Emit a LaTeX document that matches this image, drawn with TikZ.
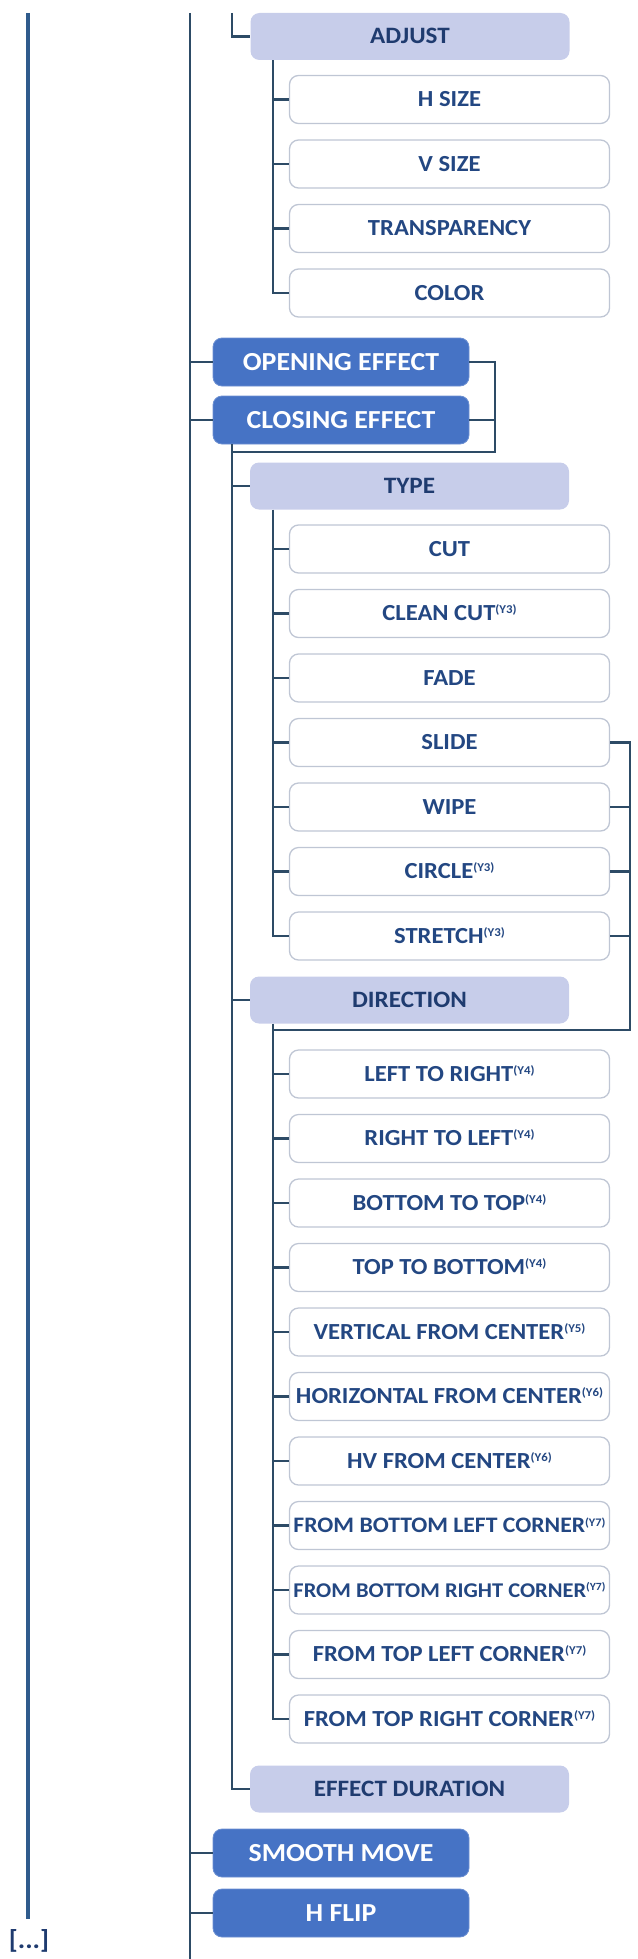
\documentclass[tikz,border=0pt]{standalone}
\usepackage{fontspec}
\setmainfont{Carlito}[FakeStretch=1.07]
\usepackage{graphicx}
\definecolor{darkbox}{HTML}{4673C5}
\definecolor{lightbox}{HTML}{C7CDEA}
\definecolor{wborder}{HTML}{BFC6D4}
\definecolor{txtblue}{HTML}{234782}
\definecolor{txtnavy}{HTML}{1F3B6F}
\definecolor{linec}{HTML}{2D4B66}
\definecolor{leftc}{HTML}{2F5B8C}
\newsavebox\lblbox
\newcommand\fitl[1]{\sbox\lblbox{#1}\ifdim\wd\lblbox>312pt\relax\resizebox{312pt}{!}{\usebox\lblbox}\else\usebox\lblbox\fi}
\newcommand\ynote[1]{\raisebox{7pt}{\fontsize{12}{12}\selectfont(Y#1)}}
\begin{document}
\begin{tikzpicture}[x=1pt,y=-1pt,
  darknode/.style={rectangle, rounded corners=9pt, fill=darkbox, draw=darkbox!80!white, line width=0.8pt,
    minimum width=256pt, minimum height=48pt, text=white, inner sep=0pt,
    font=\bfseries\fontsize{26}{28}\selectfont, text height=16.4pt, text depth=0pt},
  lightnode/.style={rectangle, rounded corners=9pt, fill=lightbox, minimum width=319pt, minimum height=47pt,
    text=txtnavy, inner sep=0pt, font=\bfseries\fontsize{23.5}{25}\selectfont, text height=14.8pt, text depth=0pt},
  leafnode/.style={rectangle, rounded corners=9pt, fill=white, draw=wborder, line width=1.3pt,
    minimum width=320pt, minimum height=48pt, text=txtblue, inner sep=0pt,
    font=\bfseries\fontsize{23}{25}\selectfont, text height=14.5pt, text depth=0pt},
  conn/.style={draw=linec, line width=2.2pt},
  leftline/.style={draw=leftc, line width=4pt},
  ellip/.style={text=txtnavy, font=\bfseries\fontsize{26}{28}\selectfont, inner sep=0pt},
]
\useasboundingbox (0,0) rectangle (637,1959);

% coordinates
\coordinate (topL) at (28,13);
\coordinate (botL) at (28,1919);
\coordinate (topM) at (190,13);
\coordinate (botM) at (190,1959);
\coordinate (topB) at (232,13);
\coordinate (bx1) at (495,452);
\coordinate (bx2) at (630,1030);
\coordinate (cx) at (232,0);
\coordinate (kx) at (273,0);

% ADJUST group
\node[lightnode] (adjust) at (410,36.5) {ADJUST};
\node[leafnode] (hsize) at (449.5,99.5) {H SIZE};
\node[leafnode] (vsize) at (449.5,164) {V SIZE};
\node[leafnode] (transp) at (449.5,228.5) {TRANSPARENCY};
\node[leafnode] (color) at (449.5,293) {COLOR};

% effects
\node[darknode] (open) at (341,362) {OPENING EFFECT};
\node[darknode] (close) at (341,420) {CLOSING EFFECT};

% TYPE group
\node[lightnode] (type) at (409.5,486) {TYPE};
\node[leafnode] (cut) at (449.5,549) {CUT};
\node[leafnode] (cleancut) at (449.5,613.5) {CLEAN CUT\ynote{3}};
\node[leafnode] (fade) at (449.5,678) {FADE};
\node[leafnode] (slide) at (449.5,742.5) {SLIDE};
\node[leafnode] (wipe) at (449.5,807) {WIPE};
\node[leafnode] (circle) at (449.5,871.5) {CIRCLE\ynote{3}};
\node[leafnode] (stretch) at (449.5,936) {STRETCH\ynote{3}};

% DIRECTION group
\node[lightnode] (direction) at (409.5,1000) {DIRECTION};
\node[leafnode] (ltr) at (449.5,1074) {\fitl{LEFT TO RIGHT\ynote{4}}};
\node[leafnode] (rtl) at (449.5,1138.5) {\fitl{RIGHT TO LEFT\ynote{4}}};
\node[leafnode] (btt) at (449.5,1203) {\fitl{BOTTOM TO TOP\ynote{4}}};
\node[leafnode] (ttb) at (449.5,1267.5) {\fitl{TOP TO BOTTOM\ynote{4}}};
\node[leafnode] (vfc) at (449.5,1332) {\fitl{VERTICAL FROM CENTER\ynote{5}}};
\node[leafnode] (hfc) at (449.5,1396.5) {\fitl{HORIZONTAL FROM CENTER\ynote{6}}};
\node[leafnode] (hvfc) at (449.5,1461) {\fitl{HV FROM CENTER\ynote{6}}};
\node[leafnode] (fblc) at (449.5,1525.5) {\fitl{FROM BOTTOM LEFT CORNER\ynote{7}}};
\node[leafnode] (fbrc) at (449.5,1590) {\fitl{FROM BOTTOM RIGHT CORNER\ynote{7}}};
\node[leafnode] (ftlc) at (449.5,1654.5) {\fitl{FROM TOP LEFT CORNER\ynote{7}}};
\node[leafnode] (ftrc) at (449.5,1719) {\fitl{FROM TOP RIGHT CORNER\ynote{7}}};

\node[lightnode] (effdur) at (409.5,1789) {EFFECT DURATION};

\node[darknode] (smooth) at (341,1853) {SMOOTH MOVE};
\node[darknode] (hflip) at (341,1913) {H FLIP};

\node[ellip] (more) at (29,1941) {[...]};

% main lines
\draw[leftline] (topL) -- (botL);
\draw[conn] (topM) -- (botM);
\foreach \n in {open,close,smooth,hflip} \draw[conn] (\n.west -| topM) -- (\n.west);

% ADJUST connectors
\draw[conn] (topB) |- (adjust.west);
\draw[conn] (adjust.south -| kx) |- (color.west);
\foreach \n in {hsize,vsize,transp} \draw[conn] (\n.west -| kx) -- (\n.west);

% effect bracket
\draw[conn] (open.east) -| (bx1) -- (bx1 -| cx);
\draw[conn] (close.east) -- (close.east -| bx1);
\draw[conn] (close.south -| cx) |- (effdur.west);
\foreach \n in {type,direction} \draw[conn] (\n.west -| cx) -- (\n.west);

% TYPE children
\draw[conn] (type.south -| kx) |- (stretch.west);
\foreach \n in {cut,cleancut,fade,slide,wipe,circle} \draw[conn] (\n.west -| kx) -- (\n.west);

% type bracket
\draw[conn] (slide.east) -| (bx2) -- (bx2 -| kx);
\foreach \n in {wipe,circle,stretch} \draw[conn] (\n.east) -- (\n.east -| bx2);

% DIRECTION children
\draw[conn] (direction.south -| kx) |- (ftrc.west);
\foreach \n in {ltr,rtl,btt,ttb,vfc,hfc,hvfc,fblc,fbrc,ftlc} \draw[conn] (\n.west -| kx) -- (\n.west);
\end{tikzpicture}
\end{document}
